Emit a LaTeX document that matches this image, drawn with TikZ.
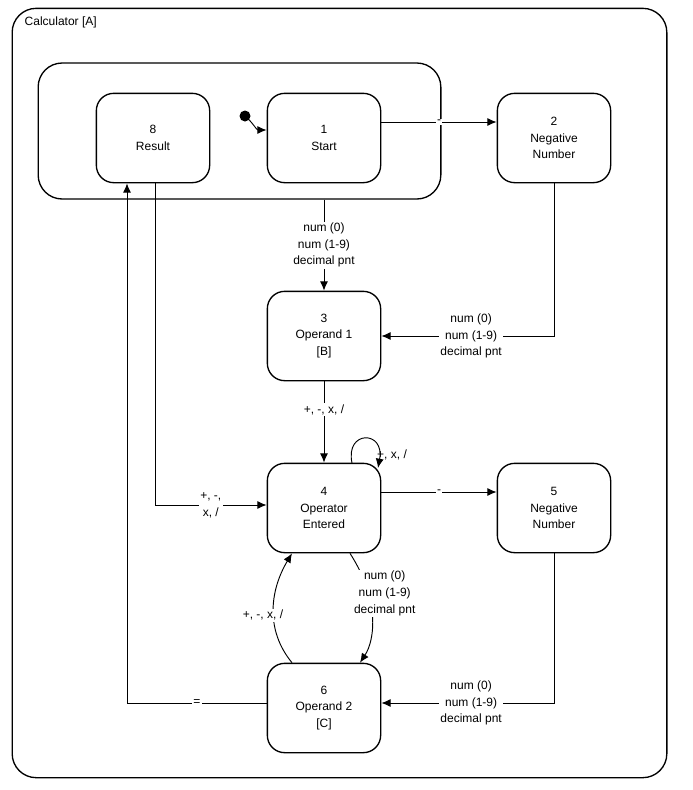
\documentclass[tikz,border=0pt]{standalone}
\usepackage{fontspec}
\setmainfont{Liberation Sans}
\usetikzlibrary{arrows.meta}
\begin{document}
\begin{tikzpicture}[x=0.75pt,y=-0.75pt,
  st/.style={draw,line width=1pt,rounded corners=13pt,minimum width=85pt,minimum height=67pt,align=center,font=\fontsize{9}{12.5}\selectfont},
  lb/.style={align=center,font=\fontsize{9}{12.5}\selectfont,fill=white,inner sep=1pt},
  ar/.style={-{Latex[length=7pt,width=6pt]},line width=0.7pt}]
\useasboundingbox (0,0) rectangle (693,790);
\node[draw,line width=1pt,rounded corners=18pt,minimum width=491pt,minimum height=577pt] (outer) at (339.5,393) {};
\node[anchor=west,font=\fontsize{9}{11}\selectfont] (title) at (20,22) {Calculator [A]};
\node[draw,line width=1pt,rounded corners=18pt,minimum width=302pt,minimum height=102pt] (sup) at (239.5,131) {};
\node[st] (s8) at (153,138) {8\\Result};
\node[st] (s1) at (324,138) {1\\Start};
\node[st] (s2) at (554,138) {2\\Negative\\Number};
\node[st] (s3) at (324,336) {3\\Operand 1\\{[B]}};
\node[st] (s4) at (324,508) {4\\Operator\\Entered};
\node[st] (s5) at (554,508) {5\\Negative\\Number};
\node[st] (s6) at (324,708) {6\\Operand 2\\{[C]}};
\fill (245,116) circle (5.5);
\coordinate (init) at (245,116);
\draw[ar] (init) to[out=-40,in=180] (s1.west |- 0,130);
\draw[ar] (s1.east |- 0,122) -- node[lb]{-} (s2.west |- 0,122);
\draw[ar] (sup.south -| s3) -- node[lb]{num (0)\\num (1-9)\\decimal pnt} (s3.north);
\coordinate (c2) at (554,336);
\draw[ar] (s2.south) -- (c2) -- node[lb,pos=0.48]{num (0)\\num (1-9)\\decimal pnt} (s3.east);
\draw[ar] (s3.south) -- node[lb,pos=0.35]{+, -, x, /} (s4.north);
\coordinate (la) at (352,463);
\coordinate (lb2) at (378,468);
\draw[ar] (la) .. controls (345,430) and (385,430) .. (lb2);
\node[lb,fill=none] (loopl) at (392,455) {+, x, /};
\draw[ar] (s4.east |- 0,492) -- node[lb]{-} (s5.west |- 0,492);
\coordinate (c8) at (155,505);
\draw[ar] (s8.south -| c8) -- (c8) -- node[lb]{+, -,\\x, /} (s4.west |- 0,505);
\coordinate (c5) at (554,703);
\draw[ar] (s5.south) -- (c5) -- node[lb,pos=0.48]{num (0)\\num (1-9)\\decimal pnt} (s6.east |- 0,703);
\draw[ar] (s4.south -| 350,0) .. controls (380,600) and (375,640) .. node[lb,pos=0.3,anchor=west,xshift=-12pt]{num (0)\\num (1-9)\\decimal pnt} (s6.north -| 360,0);
\draw[ar] (s6.north -| 292,0) .. controls (265,630) and (270,590) .. node[lb,pos=0.45,xshift=-8pt]{+, -, x, /} (s4.south -| 292,0);
\coordinate (c6) at (127,703);
\draw[ar] (s6.west |- 0,703) -- node[lb,pos=0.5]{=} (c6) -- (s8.south -| c6);
\end{tikzpicture}
\end{document}
